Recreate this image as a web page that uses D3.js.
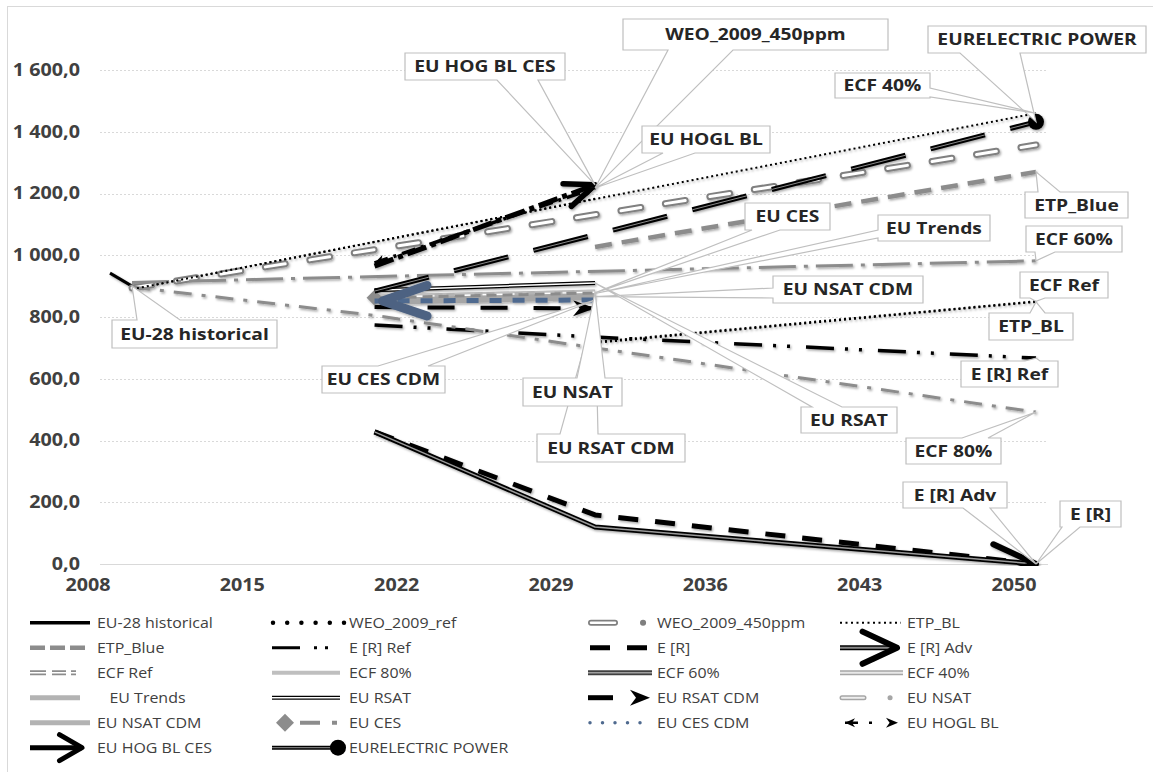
<!DOCTYPE html>
<html lang="en">
<head>
<meta charset="UTF-8">
<script src="https://d3js.org/d3.v7.min.js"></script>
<style>
  body { margin: 0; background: #fff; }
  svg text { font-family: "Open Sans", sans-serif; }
</style>
<title>Power sector emissions scenarios</title>
</head>
<body>
<svg id="chart" width="1153" height="772"></svg>
<script>
// axis ticks
var xTicks = [2008, 2015, 2022, 2029, 2036, 2043, 2050];
var yTicks = [0, 200, 400, 600, 800, 1000, 1200, 1400, 1600];

// series values [year, value]
var euHistorical = [[2008, 942], [2009, 900]];
var weoRef = [[2009, 890], [2030, 1183]];
var weo450 = [[2009, 894], [2050, 1357]];
var etpBL = [[2030, 716], [2050, 849]];
var etpBlue = [[2030, 1027], [2050, 1270]];
var erRef = [[2020, 774], [2030, 735], [2050, 667]];
var er = [[2020, 428], [2030, 159], [2050, 0]];
var erAdv = [[2020, 428], [2030, 120], [2050, 0]];
var ecfRef = [[2030, 719], [2050, 851]];
var ecf80 = [[2009, 897], [2020, 805], [2030, 700], [2050, 492]];
var ecf60 = [[2009, 912], [2050, 982]];
var ecf40 = [[2009, 890], [2050, 1460]];
var euTrends = [[2020, 860], [2030, 876]];
var euRsat = [[2020, 887], [2030, 910]];
var euRsatCdm = [[2020, 832], [2030, 828]];
var euNsat = [[2020, 864], [2030, 880]];
var euNsatCdm = [[2020, 850], [2030, 866]];
var euCes = [[2020, 862], [2030, 878]];
var euCesCdm = [[2020, 852], [2030, 855]];
var euHoglBL = [[2020, 975], [2030, 1218]];
var euHogBLCes = [[2020, 965], [2030, 1228]];
var eurelectric = [[2020, 884], [2050, 1432]];

var BLK = "#000", GRY = "#8c8c8c", LGR = "#b3b3b3", BLUE = "#4f6a8f";

// plot style + legend key style for every series (legend order)
var series = [
  {name: "EU-28 historical", values: euHistorical,
    plot: {layers: [{stroke: BLK, width: 3}]},
    key: {from: 0, to: 60, layers: [{stroke: BLK, width: 3.5}]}},
  {name: "WEO_2009_ref", values: weoRef,
    plot: {layers: [{stroke: BLK, width: 2, dash: "2,3"}]},
    key: {from: 1, to: 72, layers: [{stroke: BLK, width: 4.5, dash: "0,14.2", cap: "round"}]}},
  {name: "WEO_2009_450ppm", values: weo450,
    plot: {layers: [{stroke: "#808080", width: 7, dash: "20,25", cap: "round"}, {stroke: "#fff", width: 3, dash: "20,25", cap: "round"}]},
    key: {from: 3, to: 56, layers: [{stroke: "#7f7f7f", width: 6, dash: "24,28,0.1,40", cap: "round"}, {stroke: "#fff", width: 2.5, dash: "24,100", cap: "round"}]}},
  {name: "ETP_BL", values: etpBL,
    plot: {layers: [{stroke: BLK, width: 2, dash: "2,3"}]},
    key: {from: 0, to: 61, layers: [{stroke: BLK, width: 2, dash: "2,3.5"}]}},

  {name: "ETP_Blue", values: etpBlue,
    plot: {layers: [{stroke: GRY, width: 4.5, dash: "17,10"}]},
    key: {from: 0, to: 55, layers: [{stroke: GRY, width: 4.5, dash: "15,5"}]}},
  {name: "E [R] Ref", values: erRef,
    plot: {layers: [{stroke: BLK, width: 3.5, dash: "28,11,3,11,3,16"}]},
    key: {from: 0, to: 60, layers: [{stroke: BLK, width: 3, dash: "28,14,3,8,3,40"}]}},
  {name: "E [R]", values: er,
    plot: {layers: [{stroke: BLK, width: 5, dash: "20,17"}]},
    key: {from: 2, to: 59, layers: [{stroke: BLK, width: 5, dash: "20,17"}]}},
  {name: "E [R] Adv", values: erAdv,
    plot: {layers: [{stroke: BLK, width: 5}, {stroke: "#9a9a9a", width: 1.5}],
      end: {type: "chevron", len: 47, spread: 20, width: 6, color: BLK}},
    key: {from: 0, to: 57, layers: [{stroke: BLK, width: 5}, {stroke: "#888", width: 2}],
      end: {type: "chevron", len: 38, spread: 25, width: 6, color: BLK}}},

  {name: "ECF Ref", values: ecfRef,
    plot: {layers: [{stroke: BLK, width: 2, dash: "2,3"}]},
    key: {from: 0, to: 48, layers: [{stroke: GRY, width: 5, dash: "16,6,14,5,5,40"}, {stroke: "#fff", width: 1.5, dash: "16,6,14,5,5,40"}]}},
  {name: "ECF 80%", values: ecf80,
    plot: {layers: [{stroke: GRY, width: 3, dash: "18,10,4,10"}]},
    key: {from: 0, to: 68, layers: [{stroke: "#bfbfbf", width: 4}]}},
  {name: "ECF 60%", values: ecf60,
    plot: {layers: [{stroke: GRY, width: 3, dash: "37,8,4,8"}]},
    key: {from: 0, to: 64, layers: [{stroke: "#404040", width: 5}, {stroke: "#a0a0a0", width: 1.5}]}},
  {name: "ECF 40%", values: ecf40,
    plot: {layers: [{stroke: BLK, width: 2, dash: "2,3"}]},
    key: {from: 0, to: 63, layers: [{stroke: "#a6a6a6", width: 5}, {stroke: "#e8e8e8", width: 2}]}},

  {name: "EU Trends", values: euTrends,
    plot: {layers: [{stroke: LGR, width: 8}]},
    key: {from: 0, to: 50, layers: [{stroke: LGR, width: 5}]}, pad: "   "},
  {name: "EU RSAT", values: euRsat,
    plot: {layers: [{stroke: BLK, width: 4}, {stroke: "#fff", width: 1.5}]},
    key: {from: 0, to: 68, layers: [{stroke: BLK, width: 4}, {stroke: "#fff", width: 1.5}]}},
  {name: "EU RSAT CDM", values: euRsatCdm,
    plot: {layers: [{stroke: BLK, width: 4, dash: "27,26"}],
      end: {type: "stealth", len: 22, half: 8, color: BLK}},
    key: {from: 0, to: 62, layers: [{stroke: BLK, width: 5, dash: "25,80"}],
      end: {type: "stealth", len: 20, half: 8, color: BLK}}},
  {name: "EU NSAT", values: euNsat,
    plot: {layers: [{stroke: "#bfbfbf", width: 5, dash: "20,8,4,8"}, {stroke: "#fff", width: 1.5, dash: "20,8,4,8"}]},
    key: {from: 2, to: 52, layers: [{stroke: "#a6a6a6", width: 5, dash: "22,26,0.1,40", cap: "round"}, {stroke: "#eee", width: 2, dash: "22,100", cap: "round"}]}},

  {name: "EU NSAT CDM", values: euNsatCdm,
    plot: {layers: [{stroke: "#a6a6a6", width: 7}]},
    key: {from: 0, to: 60, layers: [{stroke: LGR, width: 5}]}},
  {name: "EU CES", values: euCes,
    plot: {layers: [{stroke: GRY, width: 3, dash: "10,6"}],
      start: {type: "diamond", half: 8, color: GRY}},
    key: {from: 13, to: 65, layers: [{stroke: GRY, width: 4, dash: "0,15,20,12,5,40"}],
      start: {type: "diamond", half: 9, color: GRY}}},
  {name: "EU CES CDM", values: euCesCdm,
    plot: {layers: [{stroke: BLUE, width: 5, dash: "12,11"}],
      start: {type: "chevron", len: 47, spread: 19, width: 9, color: "#4d6282", inset: 8}},
    key: {from: 2, to: 64, layers: [{stroke: BLUE, width: 3.5, dash: "0,12.5", cap: "round"}]}},
  {name: "EU HOGL BL", values: euHoglBL,
    plot: {layers: [{stroke: BLK, width: 3.5, dash: "14,6,3,6"}],
      start: {type: "stealth", len: 10, half: 5, color: BLK},
      end: {type: "stealth", len: 10, half: 5, color: BLK}},
    key: {from: 5, to: 58, layers: [{stroke: BLK, width: 2.5, dash: "13,11,3,40"}],
      start: {type: "stealth", len: 10, half: 4.5, color: BLK},
      end: {type: "stealth", len: 12, half: 5, color: BLK}}},

  {name: "EU HOG BL CES", values: euHogBLCes,
    plot: {layers: [{stroke: BLK, width: 5, dash: "20,5,5,5"}],
      end: {type: "chevron", len: 32, spread: 22, width: 5.5, color: BLK}},
    key: {from: 0, to: 52, layers: [{stroke: BLK, width: 5}],
      end: {type: "chevron", len: 26, spread: 30, width: 5, color: BLK}}},
  {name: "EURELECTRIC POWER", values: eurelectric,
    plot: {layers: [{stroke: BLK, width: 5, dash: "56,26"}, {stroke: "#8a8a8a", width: 1, dash: "56,26"}],
      end: {type: "circle", r: 8, color: BLK}},
    key: {from: 0, to: 66, layers: [{stroke: BLK, width: 4}, {stroke: "#777", width: 1.2}],
      end: {type: "circle", r: 8, color: BLK}}}
];

// data label call-outs: box and wedge base are layout, tip comes from the data
var callouts = [
  {text: "EU-28 historical", box: [112, 320, 277, 348], side: "top", base: [137, 180], tip: ["EU-28 historical", 2009]},
  {text: "EU HOG BL CES", box: [405, 53, 565, 80], side: "bottom", base: [497, 538], tip: ["EU HOG BL CES", 2030]},
  {text: "WEO_2009_450ppm", box: [623, 19, 888, 50], side: "bottom", base: [668, 733], tip: ["EU HOGL BL", 2030]},
  {text: "EU HOGL BL", box: [642, 126, 770, 153], side: "bottom", base: [663, 695], tip: ["EU HOGL BL", 2030]},
  {text: "EURELECTRIC POWER", box: [928, 26, 1146, 53], side: "bottom", base: [960, 1020], tip: ["EURELECTRIC POWER", 2050]},
  {text: "ECF 40%", box: [835, 73, 930, 98], side: "right", base: [88, 97], tip: ["ECF 40%", 2050]},
  {text: "ETP_Blue", box: [1025, 192, 1128, 218], side: "top", base: [1038, 1060], tip: ["ETP_Blue", 2050]},
  {text: "ECF 60%", box: [1026, 226, 1122, 252], side: "bottom", base: [1035, 1055], tip: ["ECF 60%", 2050]},
  {text: "ECF Ref", box: [1020, 272, 1108, 298], side: "bottom", base: [1030, 1045], tip: ["ECF Ref", 2050]},
  {text: "ETP_BL", box: [989, 313, 1073, 340], side: "top", base: [1030, 1045], tip: ["ETP_BL", 2050]},
  {text: "EU CES", box: [745, 203, 830, 230], side: "bottom", base: [752, 780], tip: ["EU CES", 2030]},
  {text: "EU Trends", box: [878, 215, 990, 241], side: "left", base: [230, 238], tip: ["EU Trends", 2030]},
  {text: "EU NSAT CDM", box: [773, 276, 923, 303], side: "left", base: [288, 298], tip: ["EU NSAT CDM", 2030]},
  {text: "E [R] Ref", box: [961, 361, 1058, 387], side: "top", base: [1025, 1040], tip: ["E [R] Ref", 2050]},
  {text: "EU RSAT", box: [801, 407, 897, 433], side: "top", base: [812, 842], tip: ["EU RSAT", 2030]},
  {text: "ECF 80%", box: [906, 438, 1001, 464], side: "top", base: [962, 988], tip: ["ECF 80%", 2050]},
  {text: "E [R] Adv", box: [903, 482, 1007, 508], side: "bottom", base: [963, 990], tip: ["E [R] Adv", 2050]},
  {text: "E [R]", box: [1060, 501, 1121, 527], side: "bottom", base: [1062, 1080], tip: ["E [R]", 2050]},
  {text: "EU CES CDM", box: [322, 366, 445, 393], side: "top", base: [378, 428], tip: ["EU CES CDM", 2030]},
  {text: "EU RSAT CDM", box: [537, 434, 685, 462], side: "top", base: [560, 598], tip: ["EU RSAT CDM", 2030]},
  {text: "EU NSAT", box: [523, 378, 622, 406], side: "top", base: [577, 605], tip: ["EU NSAT", 2030]}
];

var svg = d3.select("#chart");
var x = d3.scaleLinear().domain([2008, 2050]).range([110, 1036]);
var y = d3.scaleLinear().domain([0, 1800]).range([564, 8.25]);
var plotL = 100, plotR = 1048;
var fmt = d3.formatLocale({decimal: ",", thousands: " ", grouping: [3], currency: ["", ""]}).format(",.1f");

// stretch text horizontally, the source picture is wider than the installed fonts
function stretch(sel, k) {
  sel.each(function () {
    var w = this.getComputedTextLength();
    d3.select(this).attr("textLength", w * k).attr("lengthAdjust", "spacingAndGlyphs");
  });
}

var defs = svg.append("defs");
defs.append("clipPath").attr("id", "plotclip").append("rect")
  .attr("x", plotL).attr("y", 8).attr("width", plotR - plotL).attr("height", 558);
var sh = defs.append("filter").attr("id", "shadow").attr("x", "-10%").attr("y", "-10%").attr("width", "120%").attr("height", "130%");
sh.append("feDropShadow").attr("dx", 1.2).attr("dy", 1.5).attr("stdDeviation", 1.1)
  .attr("flood-color", "#000").attr("flood-opacity", 0.35);

// chart border
svg.append("rect").attr("x", 7.5).attr("y", 6.5).attr("width", 1170).attr("height", 800)
  .attr("fill", "none").attr("stroke", "#d9d9d9");

// gridlines
svg.append("g").selectAll("line").data(yTicks).enter().append("line")
  .attr("x1", plotL).attr("x2", plotR)
  .attr("y1", d => Math.round(y(d)) + 0.5).attr("y2", d => Math.round(y(d)) + 0.5)
  .attr("stroke", "#d9d9d9").attr("stroke-width", 1)
  .attr("stroke-dasharray", d => d === 0 ? null : "2,2");

// y axis labels
var yLab = svg.append("g").selectAll("text").data(yTicks).enter().append("text")
  .attr("x", 80).attr("y", d => y(d)).attr("dy", "0.35em")
  .attr("text-anchor", "end").attr("font-size", 17).attr("font-weight", 700)
  .attr("fill", "#404040").text(d => fmt(d));
stretch(yLab, 1.16);

// x axis labels (Excel draws them one category to the left of the data)
var xAxis = svg.append("g").attr("transform", "translate(0,564)")
  .call(d3.axisBottom(x).tickValues(xTicks).tickSize(0).tickFormat(d3.format("d")));
xAxis.select(".domain").remove();
var xLab = xAxis.selectAll("text")
  .attr("x", -22.5).attr("y", 21).attr("dy", "0.35em")
  .attr("font-family", "Open Sans").attr("font-size", 17).attr("font-weight", 700).attr("fill", "#404040");
stretch(xLab, 1.16);

// drawing helpers
var lineGen = d3.line().x(d => d[0]).y(d => d[1]);

function drawMarker(g, p, q, m) {
  // p is where the marker sits, q the neighbour point it faces away from
  var a = Math.atan2(p[1] - q[1], p[0] - q[0]);
  var ux = Math.cos(a), uy = Math.sin(a);
  if (m.inset) p = [p[0] - ux * m.inset, p[1] - uy * m.inset];
  if (m.type === "circle") {
    g.append("circle").attr("cx", p[0]).attr("cy", p[1]).attr("r", m.r).attr("fill", m.color);
  } else if (m.type === "diamond") {
    var h = m.half;
    g.append("path").attr("d", "M" + (p[0] - h) + "," + p[1] + "L" + p[0] + "," + (p[1] - h) +
      "L" + (p[0] + h) + "," + p[1] + "L" + p[0] + "," + (p[1] + h) + "Z").attr("fill", m.color);
  } else if (m.type === "chevron") {
    var s = m.spread * Math.PI / 180;
    var b1 = [p[0] - m.len * Math.cos(a - s), p[1] - m.len * Math.sin(a - s)];
    var b2 = [p[0] - m.len * Math.cos(a + s), p[1] - m.len * Math.sin(a + s)];
    g.append("path").attr("d", lineGen([b1, p, b2])).attr("fill", "none")
      .attr("stroke", m.color).attr("stroke-width", m.width)
      .attr("stroke-linejoin", "round").attr("stroke-linecap", "round");
  } else if (m.type === "stealth") {
    var nx = -uy, ny = ux;
    var bx = p[0] - ux * m.len, by = p[1] - uy * m.len;
    var cx = p[0] - ux * m.len * 0.7, cy = p[1] - uy * m.len * 0.7;
    g.append("path").attr("d", "M" + p[0] + "," + p[1] +
      "L" + (bx + nx * m.half) + "," + (by + ny * m.half) +
      "L" + cx + "," + cy +
      "L" + (bx - nx * m.half) + "," + (by - ny * m.half) + "Z").attr("fill", m.color);
  }
}

function drawStyled(g, pts, st) {
  st.layers.forEach(function (l) {
    g.append("path").attr("d", lineGen(pts)).attr("fill", "none")
      .attr("stroke", l.stroke).attr("stroke-width", l.width)
      .attr("stroke-dasharray", l.dash || null)
      .attr("stroke-linecap", l.cap || "butt").attr("stroke-linejoin", "round");
  });
  if (st.start) drawMarker(g, pts[0], pts[1], st.start);
  if (st.end) drawMarker(g, pts[pts.length - 1], pts[pts.length - 2], st.end);
}

// series
var plot = svg.append("g").attr("clip-path", "url(#plotclip)")
  .append("g").attr("filter", "url(#shadow)");
series.forEach(function (s) {
  var pts = s.values.map(d => [x(d[0]), y(d[1])]);
  drawStyled(plot.append("g").attr("class", "series"), pts, s.plot);
});

// call-outs
function tipOf(c) {
  var s = series.find(d => d.name === c.tip[0]);
  var v = s.values.find(d => d[0] === c.tip[1]);
  return [x(v[0]), y(v[1])];
}
function calloutPath(c, t) {
  var x0 = c.box[0], y0 = c.box[1], x1 = c.box[2], y1 = c.box[3];
  var b = c.base.slice().sort((a, b) => a - b);
  var p = d3.path();
  p.moveTo(x0, y0);
  if (c.side === "top") { p.lineTo(b[0], y0); p.lineTo(t[0], t[1]); p.lineTo(b[1], y0); }
  p.lineTo(x1, y0);
  if (c.side === "right") { p.lineTo(x1, b[0]); p.lineTo(t[0], t[1]); p.lineTo(x1, b[1]); }
  p.lineTo(x1, y1);
  if (c.side === "bottom") { p.lineTo(b[1], y1); p.lineTo(t[0], t[1]); p.lineTo(b[0], y1); }
  p.lineTo(x0, y1);
  if (c.side === "left") { p.lineTo(x0, b[1]); p.lineTo(t[0], t[1]); p.lineTo(x0, b[0]); }
  p.closePath();
  return p.toString();
}
var labels = svg.append("g");
callouts.forEach(function (c) {
  var g = labels.append("g");
  g.append("path").attr("d", calloutPath(c, tipOf(c)))
    .attr("fill", "#fff").attr("stroke", "#bfbfbf").attr("stroke-width", 1.2);
  var t = g.append("text")
    .attr("x", (c.box[0] + c.box[2]) / 2).attr("y", (c.box[1] + c.box[3]) / 2).attr("dy", "0.36em")
    .attr("text-anchor", "middle").attr("font-size", 16).attr("font-weight", 700)
    .attr("fill", "#262626").text(c.text);
  stretch(t, 1.2);
});

// legend: 4 columns, 6 rows
var colX = [30, 272, 588, 840], colText = [97, 349, 657, 907];
var legend = svg.append("g");
series.forEach(function (s, i) {
  var col = i % 4, row = Math.floor(i / 4);
  var ly = 622.7 + row * 25;
  var g = legend.append("g");
  drawStyled(g, [[colX[col] + s.key.from, ly], [colX[col] + s.key.to, ly]], s.key);
  var t = g.append("text").attr("x", colText[col]).attr("y", ly).attr("dy", "0.35em")
    .attr("font-size", 14).attr("fill", "#404040").style("white-space", "pre")
    .text((s.pad || "") + s.name);
  stretch(t, 1.14);
});
</script>
</body>
</html>
